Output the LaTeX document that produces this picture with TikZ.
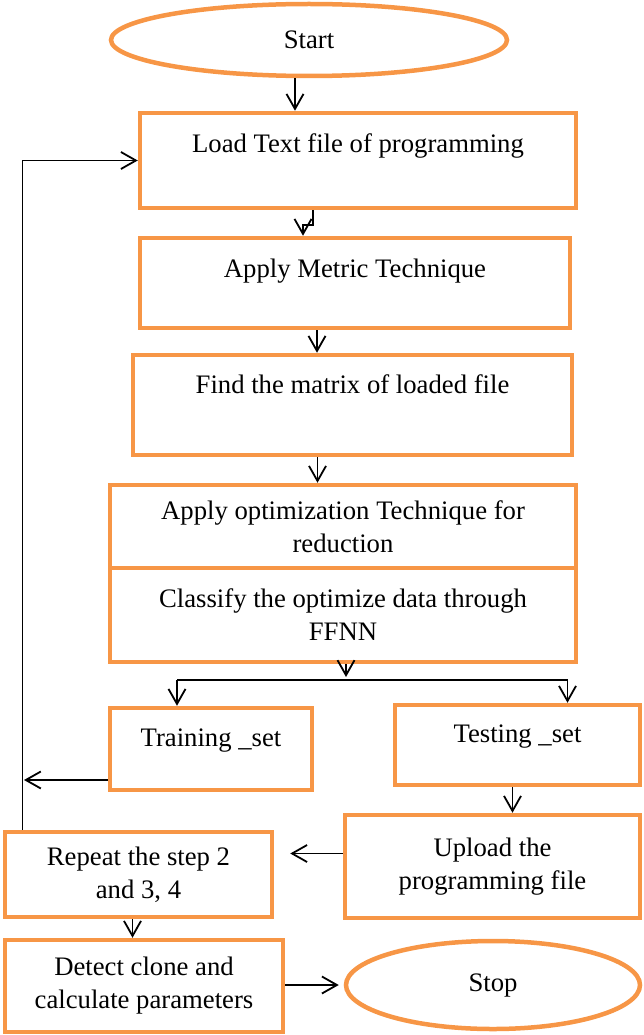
\documentclass[tikz,border=0pt]{standalone}
\usepackage{fontspec}
\setmainfont{Liberation Serif}
\usetikzlibrary{shapes.geometric,arrows.meta,calc}
\definecolor{boxorange}{HTML}{F79646}

\begin{document}
\begin{tikzpicture}[x=1pt,y=-1pt,
  every node/.style={font=\fontsize{26.7}{33}\selectfont},
  box/.style={draw=boxorange,line width=4.5pt,align=center,inner sep=0pt},
  oval/.style={box,ellipse},
  flow/.style={line width=1.8pt,-{Straight Barb[length=15pt,width=17pt]}}]
\useasboundingbox (0,0) rectangle (643,1035);

% main column
\node[oval,minimum width=396pt,minimum height=72pt] (start) at (309,40) {Start};
\node[box,minimum width=436pt,minimum height=95pt,text depth=35pt] (load) at (358,160.5) {Load Text file of programming};
\node[box,minimum width=430pt,minimum height=90pt,text depth=30pt] (metric) at (355,283) {Apply Metric Technique};
\node[box,minimum width=439pt,minimum height=100pt,text depth=42pt] (matrix) at (352.5,405) {Find the matrix of loaded file};
\node[box,minimum width=466pt,minimum height=83pt] (optim) at (343,526.5) {Apply optimization Technique for\\reduction};
\node[box,minimum width=466pt,minimum height=94pt] (classify) at (343,615) {Classify the optimize data through\\FFNN};

% the two sets
\node[box,minimum width=202pt,minimum height=82pt,text depth=22pt] (train) at (211,749) {Training \_set};
\node[box,minimum width=245pt,minimum height=80pt,text depth=22pt] (test) at (517.5,745) {Testing \_set};
\node[box,minimum width=295pt,minimum height=103pt] (upload) at (492.5,866.5) {Upload the\\programming file};
\node[box,minimum width=267pt,minimum height=85pt] (repeatbox) at (138.5,874.5) {Repeat the step 2\\and 3, 4};
\node[box,minimum width=278pt,minimum height=92pt] (detect) at (144,986) {Detect clone and\\calculate parameters};
\node[oval,minimum width=294pt,minimum height=88pt] (stop) at (493,985) {Stop};

\coordinate (split) at (346,680);
\coordinate (back) at (24,780);

\draw[flow] ($(start.south)+(-14,0)$) -- ($(start.south |- load.north)+(-14,0)$);
\draw[flow] ($(load.south)+(-45,0)$) -- ++(0,15) -| ($(metric.north)+(-52,0)$);
\draw[flow] ($(metric.south)+(-38,0)$) -- ($(metric.south |- matrix.north)+(-38,0)$);
\draw[flow] ($(matrix.south)+(-35,0)$) -- ($(matrix.south |- optim.north)+(-35,0)$);
\draw[flow] (classify.south -| split) -- ($(split)+(0,-3)$);
\draw[line width=1.8pt] ($(split -| train.north)+(-34,0)$) -- ($(split -| test.north)+(50,0)$);
\draw[flow] ($(split -| train.north)+(-34,0)$) -- ($(train.north)+(-34,0)$);
\draw[flow] ($(split -| test.north)+(50,0)$) -- ($(test.north)+(50,0)$);

% back to the loading step
\draw[flow] (train.west |- back) -- (back);
\draw[flow] ($(repeatbox.north)+(-116,0)$) |- (load.west);

\draw[flow] ($(test.south)+(-5,0)$) -- ($(test.south |- upload.north)+(-5,0)$);
\draw[flow] ($(upload.west)+(0,-13)$) -- ($(upload.west -| repeatbox.east)+(16,-13)$);
\draw[flow] ($(repeatbox.south)+(-6,0)$) -- ($(repeatbox.south |- detect.north)+(-6,0)$);
\draw[flow,shorten >=5pt] (detect.east |- stop.west) -- (stop.west);
\end{tikzpicture}
\end{document}
